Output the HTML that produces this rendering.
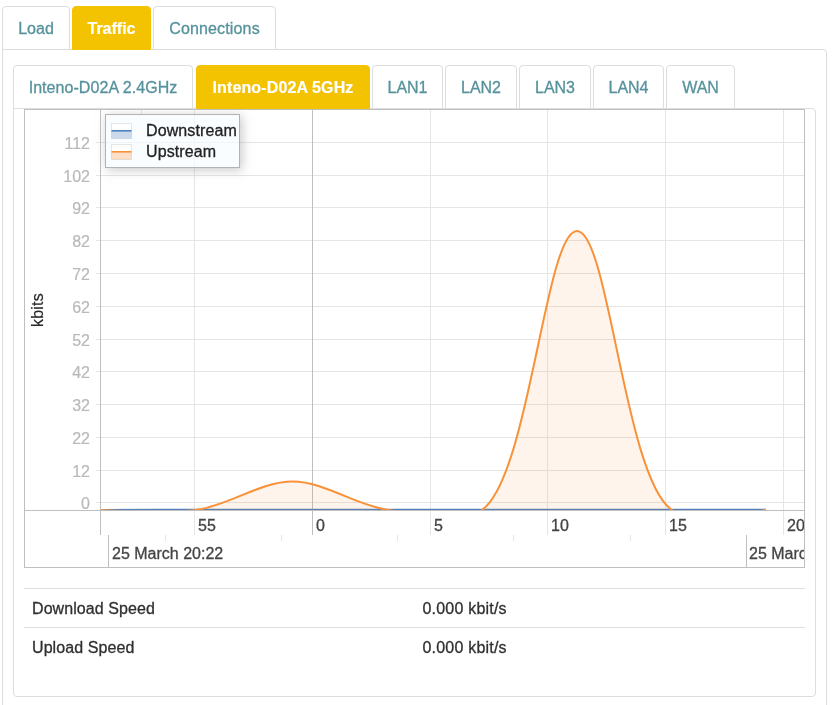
<!DOCTYPE html>
<html lang="en">
<head>
<meta charset="utf-8">
<title>Traffic</title>
<style>
*{box-sizing:border-box}
html,body{margin:0;padding:0;background:#fff}
body{width:834px;height:705px;overflow:hidden;position:relative;font-family:"Liberation Sans",Arial,Helvetica,sans-serif;font-size:16px;line-height:1.42857;color:#333}
ul{list-style:none;margin:0;padding:0}
.tabs{position:absolute;display:flex;z-index:1}
.tabs li{height:44px;margin-right:2px;border:1px solid #ddd;border-radius:4px 4px 0 0;padding:11px 0 0;color:#55929c;-webkit-text-stroke:0.3px #55929c;background:#fff;text-align:center;white-space:nowrap;line-height:22px}
.tabs li.on{background:#f3c200;border-color:#f3c200;color:#fff;font-weight:bold;-webkit-text-stroke:0.2px #fff}
#t1{left:2px;top:6px}
#t2{left:10px;top:15px}
.panel{position:absolute;border:1px solid #ddd;border-radius:4px;background:#fff}
#p1{left:2px;top:49px;width:825px;height:700px;border-top-left-radius:0}
#p2{left:10px;top:58px;width:803px;height:589px;border-top-left-radius:0}
#chart{position:absolute;left:10px;top:0;width:781px;height:459px;border:1px solid #bfbfbf;overflow:hidden;background:#fff}
#cc{position:absolute;left:-25px;top:-110px;width:834px;height:705px}
#cc div{position:absolute}
.gh{left:96px;width:710px;height:1px;background:#e5e5e5}
.gv{top:110px;width:1px;height:425px;background:#e5e5e5}
.gv.mj{background:#bfbfbf}
.yl{left:25px;width:65px;text-align:right;color:#b9b9b9;-webkit-text-stroke:0.2px #b9b9b9;line-height:22px;height:22px}
.xl{top:515px;color:#444;-webkit-text-stroke:0.3px #444;line-height:22px;white-space:nowrap}
.tk{top:535px;width:1px;height:6px;background:#e5e5e5}
#leftb{left:100px;top:110px;width:1px;height:425px;background:#bfbfbf}
#hline{left:25px;top:510px;width:781px;height:1px;background:#bfbfbf}
#mj1{left:108px;top:535px;width:1px;height:33px;background:#bfbfbf}
#mj2{left:746px;top:535px;width:1px;height:33px;background:#bfbfbf}
.ml{top:543px;color:#444;-webkit-text-stroke:0.3px #444;line-height:22px;white-space:nowrap}
#ytitle{left:28px;top:327px;color:#2a2a2a;-webkit-text-stroke:0.2px #2a2a2a;transform-origin:left top;transform:rotate(-90deg);white-space:nowrap;line-height:20px;font-size:16px;letter-spacing:0.2px}
#plot{position:absolute;left:101px;top:110px;overflow:hidden}
#legend{left:105px;top:114px;width:135px;height:54px;border:1px solid #b3b3b3;background:rgba(247,252,255,.65);box-shadow:2px 2px 10px rgba(154,154,154,.55)}
#legend span{position:absolute;left:40px;letter-spacing:0.1px;color:#222;-webkit-text-stroke:0.3px #222;line-height:22px;white-space:nowrap}
#legend svg{position:absolute;left:5px;top:8px}
table{position:absolute;left:10px;top:479px;width:781px;border-collapse:collapse;table-layout:fixed}
td{-webkit-text-stroke:0.3px #303030;color:#303030;letter-spacing:0.08px;border-top:1px solid #ddd;padding:9px 8px 0;height:39px;line-height:22px;vertical-align:top}
td.v{letter-spacing:0.2px}
</style>
</head>
<body>
<ul class="tabs" id="t1">
<li style="width:68px">Load</li>
<li class="on" style="width:79px">Traffic</li>
<li style="width:123px;letter-spacing:0.15px">Connections</li>
</ul>
<div class="panel" id="p1">
<ul class="tabs" id="t2">
<li style="width:180px;letter-spacing:0.06px">Inteno-D02A 2.4GHz</li>
<li class="on" style="width:174px;margin-left:1px;letter-spacing:0.12px">Inteno-D02A 5GHz</li>
<li style="width:71px">LAN1</li>
<li style="width:72px">LAN2</li>
<li style="width:72px">LAN3</li>
<li style="width:71px">LAN4</li>
<li style="width:69px">WAN</li>
</ul>
<div class="panel" id="p2">
<div id="chart"><div id="cc">
<div class="gh" style="top:142px"></div>
<div class="gh" style="top:175px"></div>
<div class="gh" style="top:207px"></div>
<div class="gh" style="top:240px"></div>
<div class="gh" style="top:273px"></div>
<div class="gh" style="top:306px"></div>
<div class="gh" style="top:339px"></div>
<div class="gh" style="top:371px"></div>
<div class="gh" style="top:404px"></div>
<div class="gh" style="top:437px"></div>
<div class="gh" style="top:470px"></div>
<div class="gh" style="top:502px"></div>

<div class="gv" style="left:194px"></div>
<div class="gv mj" style="left:312px"></div>
<div class="gv" style="left:430px"></div>
<div class="gv" style="left:547px"></div>
<div class="gv" style="left:665px"></div>
<div class="gv" style="left:783px"></div>

<svg id="plot" width="703" height="400" viewBox="0 0 703 400">
<path d="M0.00,400.00 C0.00,399.75 64.46,399.75 96.50,399.75 128.29,399.75 159.88,399.75 191.50,399.75 223.04,399.75 254.43,399.75 286.00,399.75 317.70,399.75 349.58,399.75 381.30,399.75 412.92,399.75 444.45,399.75 476.00,399.75 507.52,399.75 539.00,399.75 570.50,399.75 602.00,399.75 665.00,399.75 665.00,399.75 L665.00,399.75 L0.00,399.75 Z" fill="#4f81bd" fill-opacity="0.1"/>
<path d="M0.00,400.00 C0.00,399.75 64.46,399.75 96.50,399.75 128.29,399.75 159.88,399.75 191.50,399.75 223.04,399.75 254.43,399.75 286.00,399.75 317.70,399.75 349.58,399.75 381.30,399.75 412.92,399.75 444.45,399.75 476.00,399.75 507.52,399.75 539.00,399.75 570.50,399.75 602.00,399.75 665.00,399.75 665.00,399.75" fill="none" stroke="#4f81bd" stroke-width="2"/>
<path d="M0.00,400.00 C0.00,399.75 64.79,404.36 96.50,399.75 128.64,395.07 159.88,371.48 191.50,371.50 223.04,371.52 254.09,395.08 286.00,399.75 317.37,404.34 354.54,418.92 381.30,399.75 428.33,366.06 444.46,120.99 476.00,121.00 507.53,121.01 523.62,366.14 570.50,399.75 597.06,418.79 665.00,399.75 665.00,399.75 L665.00,399.75 L0.00,399.75 Z" fill="#f79646" fill-opacity="0.1"/>
<path d="M0.00,400.00 C0.00,399.75 64.79,404.36 96.50,399.75 128.64,395.07 159.88,371.48 191.50,371.50 223.04,371.52 254.09,395.08 286.00,399.75 317.37,404.34 354.54,418.92 381.30,399.75 428.33,366.06 444.46,120.99 476.00,121.00 507.53,121.01 523.62,366.14 570.50,399.75 597.06,418.79 665.00,399.75 665.00,399.75" fill="none" stroke="#f89137" stroke-width="2"/>
</svg>
<div id="leftb"></div>
<div id="hline"></div>
<div class="yl" style="top:133px">112</div>
<div class="yl" style="top:166px">102</div>
<div class="yl" style="top:198px">92</div>
<div class="yl" style="top:231px">82</div>
<div class="yl" style="top:264px">72</div>
<div class="yl" style="top:297px">62</div>
<div class="yl" style="top:330px">52</div>
<div class="yl" style="top:362px">42</div>
<div class="yl" style="top:395px">32</div>
<div class="yl" style="top:428px">22</div>
<div class="yl" style="top:461px">12</div>
<div class="yl" style="top:493px">0</div>

<div id="ytitle">kbits</div>
<div class="xl" style="left:198px">55</div>
<div class="xl" style="left:316px">0</div>
<div class="xl" style="left:434px">5</div>
<div class="xl" style="left:551px">10</div>
<div class="xl" style="left:669px">15</div>
<div class="xl" style="left:787px">20</div>

<div class="tk" style="left:165px"></div>
<div class="tk" style="left:281px"></div>
<div class="tk" style="left:397px"></div>
<div class="tk" style="left:513px"></div>
<div class="tk" style="left:630px"></div>

<div class="tk" style="left:141px;top:110px;height:5px"></div>
<div id="mj1"></div><div id="mj2"></div>
<div class="ml" style="left:112px">25 March 20:22</div>
<div class="ml" style="left:749px">25 March 20:23</div>
<div id="legend">
<svg width="22" height="40" viewBox="0 0 22 40">
<rect x="0.5" y="0.5" width="20" height="15" fill="#fff" stroke="#e5e5e5"/>
<rect x="0.5" y="8" width="20" height="7.5" fill="#4f81bd" fill-opacity="0.3"/>
<path d="M0.5,7.8 H20.5" stroke="#4f81bd" stroke-width="1.6"/>
<rect x="0.5" y="21.5" width="20" height="15" fill="#fff" stroke="#e5e5e5"/>
<rect x="0.5" y="29" width="20" height="7.5" fill="#f79646" fill-opacity="0.3"/>
<path d="M0.5,28.8 H20.5" stroke="#f89137" stroke-width="1.6"/>
</svg>
<span style="top:5px">Downstream</span>
<span style="top:26px">Upstream</span>
</div>
</div></div>
<table>
<tr><td>Download Speed</td><td class="v">0.000 kbit/s</td></tr>
<tr><td>Upload Speed</td><td class="v">0.000 kbit/s</td></tr>
</table>
</div>
</div>
</body>
</html>
